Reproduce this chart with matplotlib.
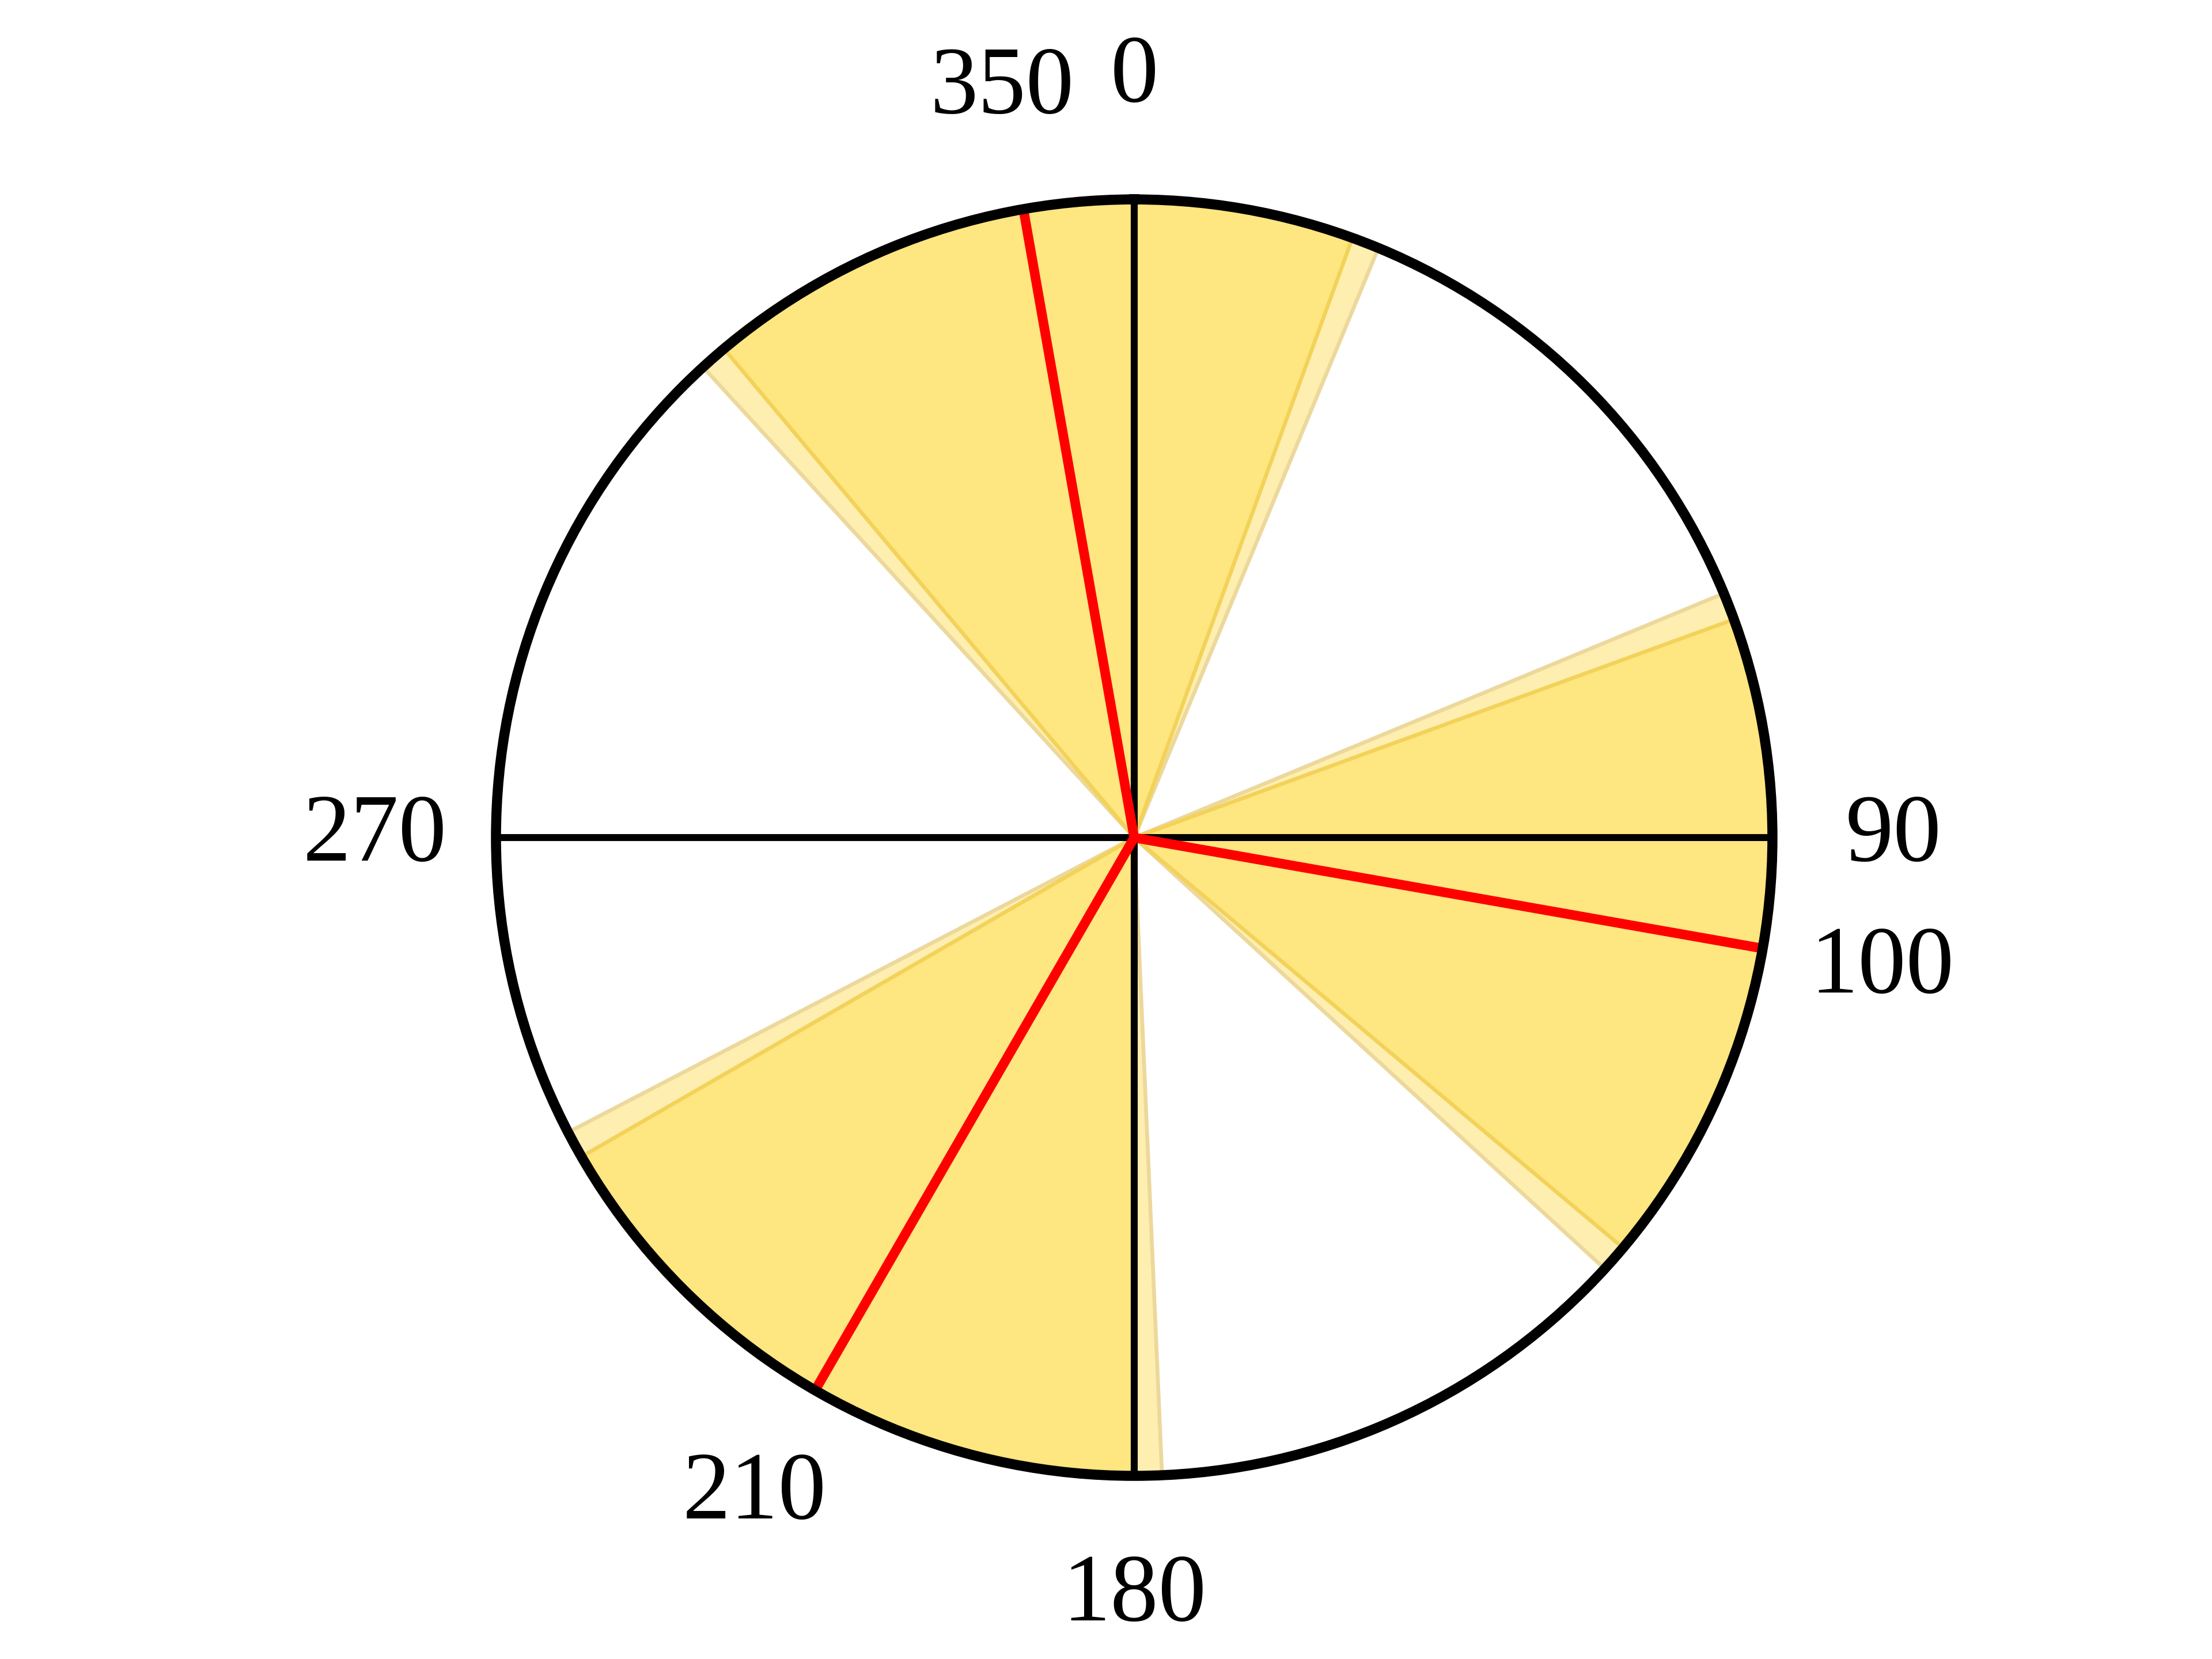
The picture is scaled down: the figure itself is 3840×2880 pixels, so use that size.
import numpy as np
import matplotlib
matplotlib.use("Agg")
import matplotlib.pyplot as plt

# Data (compass degrees, clockwise from north)
mean_dirs = [350, 100, 210]          # red mean-direction lines
half_widths = [30, 30, 30]           # half-width of each sector
uncertainty = [2.5, 2.5, 2.5]        # extra pale band on each side
axis_dirs = [0, 90, 180, 270]        # black reference lines
tick_dirs = [0, 90, 180, 270, 350, 100, 210]
tick_labels = ["0", "90", "180", "270", "350", "100", "210"]

plt.rcParams['font.family'] = ['Liberation Serif', 'DejaVu Serif']

fig = plt.figure(figsize=(12.8, 9.6), dpi=300)
ax = fig.add_axes([0.2242, 0.1104, 0.5771, 0.7694], projection='polar')
ax.set_theta_zero_location('N')
ax.set_theta_direction(-1)
ax.set_ylim(0, 1)

for m, hw, u in zip(mean_dirs, half_widths, uncertainty):
    ax.bar(np.deg2rad(m), 1, width=np.deg2rad(2 * (hw + u)), bottom=0,
           color='#FEEEB0', edgecolor='#EDD89C', linewidth=1.6, zorder=1)
for m, hw in zip(mean_dirs, half_widths):
    ax.bar(np.deg2rad(m), 1, width=np.deg2rad(2 * hw), bottom=0,
           color='#FEE680', edgecolor='#F3D25A', linewidth=1.6, zorder=1.1)

for d in axis_dirs:
    ax.plot([np.deg2rad(d)] * 2, [0, 1], color='black', lw=2.9,
            solid_capstyle='butt', zorder=2)
for d in mean_dirs:
    ax.plot([np.deg2rad(d)] * 2, [0, 1], color='#FF0000', lw=4.0,
            solid_capstyle='butt', zorder=3)

ax.grid(False)
ax.set_yticks([])
ax.set_xticks([])
ax.spines['polar'].set_linewidth(4.2)
ax.spines['polar'].set_color('black')
ax.spines['polar'].set_zorder(4)

for d, lab in zip(tick_dirs, tick_labels):
    ax.text(np.deg2rad(d), 1.19, lab, ha='center', va='center',
            fontsize=40, color='black', clip_on=False)

fig.savefig('out.png', dpi=300, facecolor='white')
